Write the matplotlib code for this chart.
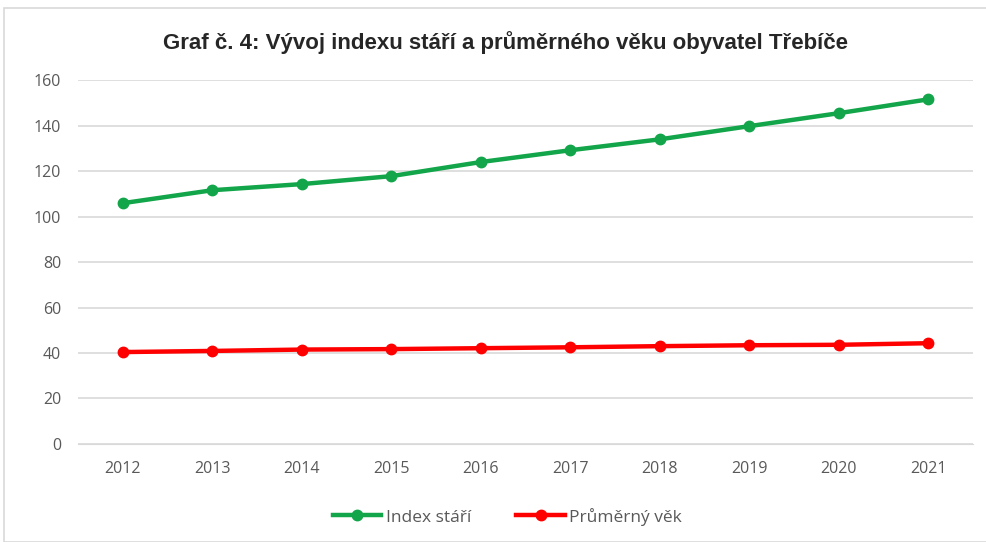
import matplotlib
matplotlib.use("Agg")
import matplotlib.pyplot as plt
from matplotlib.patches import Rectangle

years = ["2012", "2013", "2014", "2015", "2016", "2017", "2018", "2019", "2020", "2021"]
index_stari = [105.9, 111.6, 114.3, 117.8, 124.0, 129.2, 134.0, 139.8, 145.5, 151.6]
prumerny_vek = [40.4, 40.9, 41.5, 41.7, 42.1, 42.5, 43.0, 43.4, 43.6, 44.3]
yticks = [0, 20, 40, 60, 80, 100, 120, 140, 160]

plt.rcParams['font.family'] = ['Open Sans', 'DejaVu Sans']

fig = plt.figure(figsize=(9.87, 5.42), dpi=100)
ax = fig.add_axes([0.079, 0.181, 0.907, 0.671])

x = list(range(len(years)))
ax.plot(x, index_stari, color='#12a54a', lw=3.2, marker='o', ms=7.5, label='Index stáří', zorder=3)
ax.plot(x, prumerny_vek, color='#ff0000', lw=3.2, marker='o', ms=7.5, label='Průměrný věk', zorder=3)

ax.set_xlim(-0.5, len(years) - 0.5)
ax.set_ylim(0, 160)
ax.set_yticks(yticks)
ax.set_xticks(x)
ax.set_xticklabels(years)
ax.grid(axis='y', color='#d9d9d9', lw=1.2)
ax.set_axisbelow(True)
for s in ax.spines.values():
    s.set_visible(False)
ax.spines['bottom'].set_visible(True)
ax.spines['bottom'].set_color('#d9d9d9')
ax.tick_params(length=0, colors='#595959', labelsize=11.5)
ax.tick_params(axis='x', pad=12)
ax.tick_params(axis='y', pad=12)

fig.text(0.512, 0.922, 'Graf č. 4: Vývoj indexu stáří a průměrného věku obyvatel Třebíče',
         ha='center', va='center', fontsize=16, fontweight='bold',
         family=['Liberation Sans Narrow', 'Liberation Sans', 'DejaVu Sans'], color='#262626')

leg = fig.legend(loc='center', bbox_to_anchor=(0.514, 0.047), ncol=2, frameon=False,
                 fontsize=12.5, handlelength=2.8, columnspacing=2.6, handletextpad=0.25,
                 labelcolor='#595959')

fig.patches.append(Rectangle((0.004, 0.0), 0.996, 0.985, transform=fig.transFigure,
                             fill=False, edgecolor='#d9d9d9', lw=1.2))

fig.savefig('out.png', dpi=100)
